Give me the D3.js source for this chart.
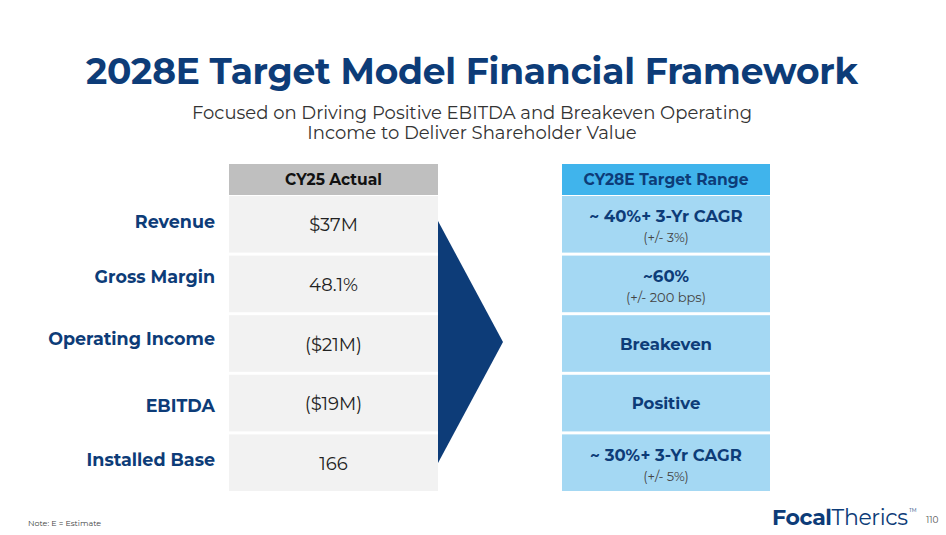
<!DOCTYPE html>
<html><head><meta charset="utf-8">
<script src="https://cdn.jsdelivr.net/npm/d3@7"></script>
<style>body{margin:0;background:#fff}svg{display:block}</style>
</head><body><svg></svg>
<script>
let width = 946, height = 535;
let svg = d3.select("svg").attr("width", width).attr("height", height);
const navy = "#0d3c78", font = "Montserrat, 'Open Sans', sans-serif";

const rows = [
  { name: "Revenue", actual: "$37M", target: "~ 40%+ 3-Yr CAGR", sub: "(+/- 3%)" },
  { name: "Gross Margin", actual: "48.1%", target: "~60%", sub: "(+/- 200 bps)" },
  { name: "Operating Income", actual: "($21M)", target: "Breakeven", sub: "" },
  { name: "EBITDA", actual: "($19M)", target: "Positive", sub: "" },
  { name: "Installed Base", actual: "166", target: "~ 30%+ 3-Yr CAGR", sub: "(+/- 5%)" }
];

// title
svg.append("text").attr("x", 472).attr("y", 84).attr("text-anchor", "middle")
  .attr("font-family", font).attr("font-weight", 700).attr("font-size", "36px")
  .attr("fill", navy).attr("textLength", 772).text("2028E Target Model Financial Framework");
["Focused on Driving Positive EBITDA and Breakeven Operating", "Income to Deliver Shareholder Value"]
  .forEach((t, i) => svg.append("text").attr("x", 472).attr("y", 119 + i * 20)
    .attr("text-anchor", "middle").attr("font-family", font).attr("font-size", "18px")
    .attr("fill", "#333").text(t));

let y = d3.scaleBand().domain(rows.map(d => d.name)).range([196, 491]).paddingInner(0.05);

function table(x0, x1, headFill, headText, rowFill, draw) {
  svg.append("rect").attr("x", x0).attr("y", 164).attr("width", x1 - x0).attr("height", 31).attr("fill", headFill);
  svg.append("text").attr("x", (x0 + x1) / 2).attr("y", 185).attr("text-anchor", "middle")
    .attr("font-family", font).attr("font-weight", 700).attr("font-size", "15.5px")
    .attr("fill", headText.color).text(headText.text);
  let g = svg.append("g").selectAll("g").data(rows).enter().append("g");
  g.append("rect").attr("x", x0).attr("y", d => y(d.name)).attr("width", x1 - x0)
    .attr("height", y.bandwidth()).attr("fill", rowFill);
  draw(g, (x0 + x1) / 2);
}

table(229, 438, "#bfbfbf", { text: "CY25 Actual", color: "#111" }, "#f2f2f2", (g, cx) => {
  g.append("text").attr("x", cx).attr("y", d => y(d.name) + y.bandwidth() / 2 + 7)
    .attr("text-anchor", "middle").attr("font-family", font).attr("font-size", "18px")
    .attr("fill", "#222").text(d => d.actual);
});

table(562, 770, "#40b4ec", { text: "CY28E Target Range", color: navy }, "#a4d8f3", (g, cx) => {
  g.append("text").attr("x", cx).attr("y", d => y(d.name) + y.bandwidth() / 2 + (d.sub ? -2 : 6))
    .attr("text-anchor", "middle").attr("font-family", font).attr("font-weight", 700)
    .attr("font-size", "16.5px").attr("fill", navy).text(d => d.target);
  g.append("text").attr("x", cx).attr("y", d => y(d.name) + y.bandwidth() / 2 + 18)
    .attr("text-anchor", "middle").attr("font-family", font).attr("font-size", "13px")
    .attr("fill", "#444").text(d => d.sub);
});

// row labels
svg.append("g").selectAll("text").data(rows).enter().append("text")
  .attr("x", 215).attr("y", (d, i) => y(d.name) + y.bandwidth() / 2 + [4, -1, 1, 9, 3][i])
  .attr("text-anchor", "end").attr("font-family", font).attr("font-weight", 700)
  .attr("font-size", "17.5px").attr("fill", navy).text(d => d.name);

// arrow
svg.append("path").attr("d", "M438,221L503,342L438,463Z").attr("fill", navy);

// footer
svg.append("text").attr("x", 28).attr("y", 526).attr("font-family", font).attr("font-size", "8px")
  .attr("fill", "#444").text("Note: E = Estimate");
let logo = svg.append("text").attr("x", 772).attr("y", 525).attr("font-family", font)
  .attr("font-size", "22px").attr("fill", navy).attr("textLength", 136);
logo.append("tspan").attr("font-weight", 700).text("Focal");
logo.append("tspan").attr("font-weight", 400).text("Therics");
svg.append("text").attr("x", 909).attr("y", 512).attr("font-family", font).attr("font-size", "5px")
  .attr("fill", navy).text("TM");
svg.append("text").attr("x", 926).attr("y", 523).attr("font-family", font).attr("font-size", "9px")
  .attr("fill", "#555").text("110");
</script></body></html>
